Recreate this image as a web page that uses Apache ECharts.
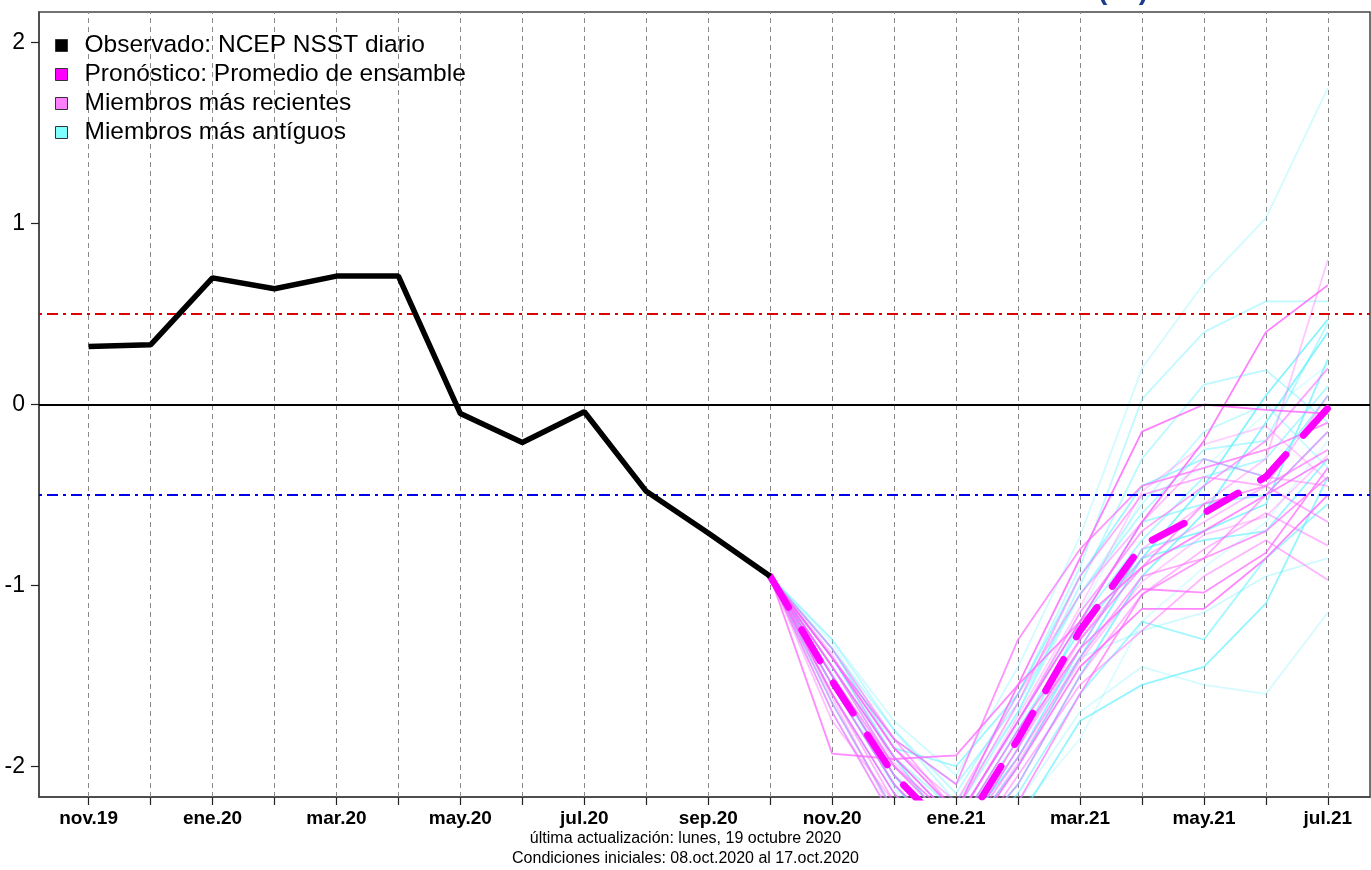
<!DOCTYPE html>
<html>
<head>
<meta charset="utf-8">
<script src="https://cdn.jsdelivr.net/npm/echarts@6/dist/echarts.min.js"></script>
<style>
  html, body { margin: 0; padding: 0; background: #fff; }
  #chart { width: 1371px; height: 870px; }
</style>
</head>
<body>
<div id="chart"></div>
<script>
// meses del eje x (nov.19 .. jul.21)
const months = ["nov.19", "dic.19", "ene.20", "feb.20", "mar.20", "abr.20", "may.20", "jun.20", "jul.20", "ago.20",
  "sep.20", "oct.20", "nov.20", "dic.20", "ene.21", "feb.21", "mar.21", "abr.21", "may.21", "jun.21", "jul.21"];
const yTicks = [-2, -1, 0, 1, 2];

// observado: NCEP NSST diario (nov.19 .. oct.20)
const observed = [0.32, 0.33, 0.70, 0.64, 0.71, 0.71, -0.05, -0.21, -0.04, -0.48, -0.71, -0.95];

// pronóstico desde oct.20 (índice 11) hasta jul.21
const forecastStart = 11;
const ensembleMean = [-0.95, -1.53, -2.05, -2.40, -1.85, -1.25, -0.78, -0.60, -0.40, -0.02];

// miembros más recientes (rosa)
const recentMembers = [
  [-0.95, -1.45, -1.95, -2.30, -1.75, -1.20, -0.65, -0.20, 0.40, 0.66],
  [-0.95, -1.40, -1.90, -2.25, -1.55, -0.85, -0.15, 0.00, -0.03, -0.05],
  [-0.95, -1.60, -2.15, -2.50, -2.00, -1.45, -1.13, -1.13, -0.85, -0.50],
  [-0.95, -1.93, -1.96, -1.94, -1.55, -1.20, -0.90, -0.70, -0.50, -0.30],
  [-0.95, -1.50, -2.05, -2.40, -1.85, -1.35, -1.02, -1.04, -0.82, -0.35],
  [-0.95, -1.40, -1.85, -2.10, -1.30, -0.80, -0.45, -0.35, -0.25, -0.10],
  [-0.95, -1.70, -2.30, -2.60, -2.20, -1.60, -1.05, -0.85, -0.70, -0.40],
  [-0.95, -1.50, -2.00, -2.35, -1.80, -1.30, -0.90, -0.55, -0.45, -0.25],
  [-0.95, -1.45, -2.00, -2.30, -1.75, -1.15, -0.70, -0.45, -0.20, 0.20],
  [-0.95, -1.55, -2.10, -2.45, -1.95, -1.40, -0.95, -0.85, -0.50, -0.15],
  [-0.95, -1.35, -1.85, -2.25, -1.65, -0.95, -0.50, -0.40, -0.45, -0.65],
  [-0.95, -1.60, -2.20, -2.55, -2.05, -1.55, -1.25, -0.95, -0.75, -0.97],
  [-0.95, -1.65, -2.25, -2.50, -2.10, -1.50, -1.05, -0.80, -0.60, -0.78],
  [-0.95, -1.40, -1.90, -2.20, -1.60, -1.05, -0.65, -0.30, -0.40, -0.45],
  [-0.95, -1.75, -2.20, -2.45, -1.90, -1.30, -0.85, -0.65, -0.45, 0.05],
  [-0.95, -1.55, -2.10, -2.45, -1.90, -1.35, -0.80, -0.55, -0.30, 0.80],
  [-0.95, -1.62, -2.28, -2.48, -1.98, -1.42, -0.98, -0.72, -0.62, -0.28],
  [-0.95, -1.38, -1.98, -2.32, -1.72, -1.12, -0.48, -0.22, -0.12, -0.42],
];

// miembros más antiguos (cian)
const olderMembers = [
  [-0.95, -1.50, -2.05, -2.45, -2.00, -1.40, -0.85, -0.45, 0.05, 0.47],
  [-0.95, -1.55, -2.10, -2.50, -2.10, -1.50, -0.95, -0.60, -0.10, 0.40],
  [-0.95, -1.40, -1.95, -2.40, -1.95, -1.35, -0.80, -0.70, -0.55, 0.25],
  [-0.95, -1.65, -2.25, -2.70, -2.30, -1.75, -1.55, -1.45, -1.10, -0.40],
  [-0.95, -1.50, -2.05, -2.35, -1.80, -1.25, -0.85, -0.75, -0.70, -0.30],
  [-0.95, -1.35, -1.90, -2.00, -1.60, -0.95, -0.45, -0.30, -0.40, 0.05],
  [-0.95, -1.60, -2.15, -2.55, -2.15, -1.60, -1.20, -1.30, -0.85, -0.55],
  [-0.95, -1.55, -2.10, -2.45, -1.90, -1.20, -0.65, -0.55, -0.50, -0.15],
  [-0.95, -1.45, -1.95, -2.30, -1.75, -1.20, -0.75, -0.40, -0.30, 0.10],
  [-0.95, -1.40, -1.85, -2.10, -1.65, -1.05, -0.60, -0.25, -0.20, 0.45],
  [-0.95, -1.45, -1.95, -2.25, -1.70, -1.00, -0.30, 0.11, 0.19, -0.10],
  [-0.95, -1.35, -1.80, -2.15, -1.60, -0.90, 0.03, 0.40, 0.57, 0.57],
  [-0.95, -1.30, -1.80, -2.20, -1.70, -1.05, -0.55, -0.15, 0.00, -0.35],
  [-0.95, -1.45, -2.00, -2.35, -1.85, -1.40, -1.25, -1.15, -0.95, -0.85],
  [-0.95, -1.30, -1.75, -2.05, -1.45, -0.73, 0.20, 0.67, 1.03, 1.75],
  [-0.95, -1.70, -2.30, -2.60, -2.20, -1.70, -1.45, -1.55, -1.60, -1.15],
  [-0.95, -1.48, -2.12, -2.62, -2.25, -1.85, -1.20, -0.90, -0.65, -0.20],
  [-0.95, -1.32, -1.88, -2.28, -1.78, -1.15, -0.52, -0.35, -0.05, 0.22],
];

// umbrales
const elNinoLimit = 0.5;
const laNinaLimit = -0.5;

const FONT = "Liberation Sans, Arial, sans-serif";
const xMin = -0.8, xMax = 20.68;
const yMin = -2.17, yMax = 2.17;

const chart = echarts.init(document.getElementById("chart"));

const toForecast = (arr) => arr.map((v, j) => [forecastStart + j, v]);
const monthIdx = months.map((m, i) => i);

const memberSeries = (list, name, rgb, aHi, aLo, z) =>
  list.map((arr, k) => ({
    name: name,
    type: "line",
    z: z,
    data: toForecast(arr),
    symbol: "none",
    silent: true,
    lineStyle: {
      width: 1.8,
      color: `rgba(${rgb},${(aHi - (aHi - aLo) * k / (list.length - 1)).toFixed(2)})`,
    },
  }));

const options = {
  animation: false,
  grid: { left: 39, right: 1, top: 12, bottom: 73, show: true, borderColor: "#444", borderWidth: 1.5, backgroundColor: "transparent" },
  xAxis: {
    type: "value",
    min: xMin,
    max: xMax,
    axisLine: { show: true, onZero: false, lineStyle: { color: "#444", width: 1.5 } },
    splitLine: { show: false },
    axisTick: { show: true, customValues: monthIdx, length: 8, lineStyle: { color: "#222", width: 1.2 } },
    axisLabel: {
      customValues: monthIdx.filter((i) => i % 2 === 0),
      formatter: (v) => months[Math.round(v)],
      fontFamily: FONT,
      fontWeight: "bold",
      fontSize: 19,
      color: "#000",
      margin: 12,
    },
  },
  yAxis: {
    type: "value",
    min: yMin,
    max: yMax,
    axisLine: { show: true, onZero: false, lineStyle: { color: "#444", width: 1.5 } },
    splitLine: { show: false },
    axisTick: { show: true, customValues: yTicks, length: 8, lineStyle: { color: "#222", width: 1.2 } },
    axisLabel: {
      customValues: yTicks,
      fontFamily: FONT,
      fontSize: 23,
      color: "#000",
      margin: 14,
    },
  },
  legend: {
    orient: "vertical",
    left: 50,
    top: 28,
    icon: "rect",
    itemWidth: 12,
    itemHeight: 12,
    itemGap: 4,
    selectedMode: false,
    textStyle: { fontFamily: FONT, fontSize: 24.5, color: "#000", lineHeight: 24, padding: [0, 0, 0, 12] },
    itemStyle: { borderColor: "#333", borderWidth: 1 },
    data: [
      { name: "Observado: NCEP NSST diario", itemStyle: { color: "#000" } },
      { name: "Pronóstico: Promedio de ensamble", itemStyle: { color: "#FF00FF" } },
      { name: "Miembros más recientes", itemStyle: { color: "#FF80FF" } },
      { name: "Miembros más antíguos", itemStyle: { color: "#80FFFF" } },
    ],
  },
  graphic: [
    {
      type: "text", left: "center", top: 831,
      style: { text: "última actualización: lunes, 19 octubre 2020", font: "16px " + FONT, fill: "#000" },
    },
    {
      type: "text", left: "center", top: 851,
      style: { text: "Condiciones iniciales: 08.oct.2020 al 17.oct.2020", font: "16px " + FONT, fill: "#000" },
    },
    {
      type: "text", x: 1098, y: 5,
      style: { text: "(°C)", font: "bold 28px " + FONT, fill: "#1a3c8c", verticalAlign: "bottom" },
    },
  ],
  series: [
    {
      // líneas verticales por mes
      type: "line",
      data: [],
      silent: true,
      markLine: {
        z: 1,
        silent: true,
        symbol: "none",
        label: { show: false },
        lineStyle: { color: "#8a8a8a", width: 1, type: [5, 4] },
        data: monthIdx.map((i) => ({ xAxis: i })),
      },
    },
    ...memberSeries(olderMembers, "Miembros más antíguos", "90,240,255", 0.75, 0.18, 2),
    ...memberSeries(recentMembers, "Miembros más recientes", "255,100,255", 0.85, 0.3, 3),
    {
      // umbrales y cero
      type: "line",
      data: [],
      silent: true,
      markLine: {
        z: 4,
        silent: true,
        symbol: "none",
        label: { show: false },
        data: [
          { yAxis: 0, lineStyle: { color: "#000", width: 2, type: "solid" } },
          { yAxis: elNinoLimit, lineStyle: { color: "#DD0000", width: 2, type: [3, 5, 11, 5] } },
          { yAxis: laNinaLimit, lineStyle: { color: "#0000EE", width: 2, type: [3, 5, 11, 5] } },
        ],
      },
    },
    {
      name: "Pronóstico: Promedio de ensamble",
      type: "line",
      z: 6,
      data: toForecast(ensembleMean),
      symbol: "none",
      lineStyle: { color: "#FF00FF", width: 7, type: [36, 26], cap: "round" },
    },
    {
      name: "Observado: NCEP NSST diario",
      type: "line",
      z: 7,
      data: observed.map((v, i) => [i, v]),
      symbol: "none",
      lineStyle: { color: "#000", width: 5.5 },
    },
  ],
};
chart.setOption(options);
</script>
</body>
</html>
